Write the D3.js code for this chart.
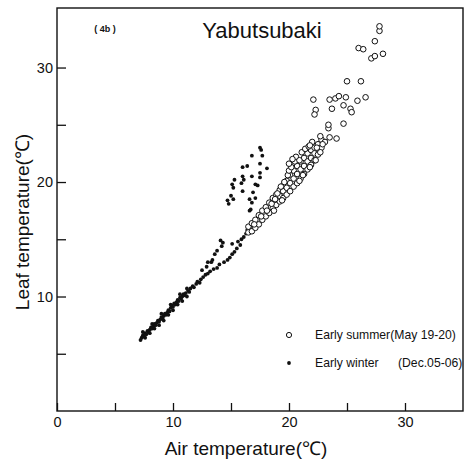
<!DOCTYPE html>
<html>
<head>
<meta charset="utf-8">
<script src="https://cdn.jsdelivr.net/npm/d3@7"></script>
<style>
  html, body { margin: 0; padding: 0; background: #fff; }
  svg { display: block; font-family: "Liberation Sans", Arial, sans-serif; }
</style>
</head>
<body>
<svg id="chart" width="465" height="463"></svg>
<script>
// ---- Data ----
const chartTitle = "Yabutsubaki";
const panelLabel = "( 4b )";
const xTitle = "Air temperature(\u2103)";
const yTitle = "Leaf temperature(\u2103)";
const xTickValues = [0, 5, 10, 15, 20, 25, 30];
const yTickValues = [5, 10, 15, 20, 25, 30];
const xTickLabels = ["0", "", "10", "", "20", "", "30"];
const yTickLabels = ["", "10", "", "20", "", "30"];
const seriesNames = ["Early summer(May 19-20)", "Early winter", "(Dec.05-06)"];

// Early summer (open circles): [air, leaf]
const summerPoints = [
  [16.5,15.6],[16.5,16.1],[16.8,15.7],[16.8,16.4],[17.1,16.0],[17.1,16.7],
  [17.4,16.3],[17.4,17.1],[17.7,16.7],[17.7,17.5],[18.0,17.0],[18.0,17.8],
  [18.3,17.3],[18.3,18.2],[18.6,17.7],[18.6,18.6],[18.9,18.0],[18.9,18.9],
  [19.2,18.3],[19.2,19.3],[19.2,18.8],[19.5,18.6],[19.5,19.7],[19.5,19.2],
  [19.8,18.9],[19.8,20.1],[19.8,19.5],[20.1,19.2],[20.1,20.6],[20.1,19.9],
  [20.4,19.6],[20.4,21.0],[20.4,20.3],[20.7,19.9],[20.7,21.4],[20.7,20.7],
  [21.0,20.3],[21.0,21.8],[21.0,21.1],[21.3,20.7],[21.3,22.1],[21.3,21.4],
  [21.6,21.1],[21.6,22.5],[21.6,21.8],[21.9,21.5],[21.9,22.8],[21.9,22.1],
  [22.2,21.9],[22.2,23.0],[22.2,22.5],[22.5,22.4],[22.5,23.3],[22.8,23.0],
  [22.8,23.7],[23.1,23.5],[23.4,24.7],
  [17.0,16.3],[17.6,17.0],[18.1,17.5],[18.5,18.1],[18.8,18.5],[19.0,19.0],
  [19.3,19.6],[19.6,20.0],[19.9,20.6],[20.0,21.0],[20.2,21.3],[20.5,21.8],
  [20.6,22.2],[20.9,21.9],[21.1,22.6],[21.4,22.9],[21.7,23.1],[22.0,23.5],
  [21.2,20.6],[20.9,20.1],[21.8,21.3],[22.3,21.9],[22.7,22.6],[19.4,18.4],
  [18.7,17.5],[20.3,22.0],[20.0,21.6],
  [21.8,23.2],[22.4,23.0],[22.9,23.3],[22.7,24.0],[23.5,23.9],[24.1,23.8],
  [23.4,25.0],[24.7,25.1],[22.3,26.3],[22.2,25.9],[23.7,26.4],[24.7,26.7],
  [25.3,26.4],[25.4,26.1],[22.1,27.2],[23.5,27.2],[24.0,27.3],[24.3,27.5],
  [24.9,27.4],[25.9,27.1],[26.6,27.4],[25.0,28.8],[26.2,28.8],[27.1,30.8],
  [27.4,31.0],[28.1,31.2],[26.0,31.7],[26.4,31.6],[27.4,32.3],[27.8,33.2],
  [27.8,33.6]
];

// Early winter (filled dots): [air, leaf]
const winterPoints = [
  [7.2,6.2],[7.3,6.4],[7.4,6.6],[7.5,6.5],[7.6,6.8],[7.7,6.7],[7.8,7.0],[7.9,6.9],
  [8.0,7.1],[8.1,7.3],[8.2,7.2],[8.3,7.4],[8.4,7.6],[8.5,7.5],[8.6,7.7],[8.7,7.9],
  [8.8,7.8],[8.9,8.0],[9.0,8.2],[9.1,8.1],[9.2,8.3],[9.3,8.5],[9.4,8.4],[9.5,8.6],
  [9.6,8.8],[9.7,8.7],[9.8,9.0],[9.9,9.2],[10.0,9.1],[10.1,9.4],[10.2,9.3],[10.3,9.5],
  [10.4,9.7],[10.5,9.6],[10.6,9.9],[10.7,9.8],[10.8,10.0],[10.9,10.2],[11.0,10.1],
  [11.1,10.3],[11.3,10.5],[11.4,10.4],[11.5,10.7],[11.7,10.9],[11.8,10.8],[12.0,11.1],
  [12.1,11.3],[12.3,11.2],[12.4,11.5],[12.5,12.3],[12.6,11.7],[12.8,11.9],[12.9,12.6],
  [13.0,12.0],[13.2,12.2],[13.3,13.0],[13.4,13.2],[13.5,12.4],[13.6,13.7],[13.8,12.5],
  [13.8,14.0],[14.0,12.8],[14.2,14.4],[14.3,14.7],[14.4,13.0],[14.7,13.2],[14.9,13.4],
  [15.1,13.7],[15.3,13.9],[15.5,14.2],[15.6,14.8],[15.8,14.5],[15.9,15.0],[16.1,15.2],
  [16.3,15.5],[16.4,15.8],[16.6,16.0],[16.8,16.2],[17.0,16.4],
  [7.6,6.4],[8.0,6.8],[8.4,7.2],[8.8,7.5],[9.2,7.9],[9.6,8.4],[10.0,8.8],[10.4,9.3],
  [10.8,9.6],[11.2,10.0],[7.4,6.9],[8.2,7.6],[9.0,8.5],[9.8,9.3],[10.6,10.2],[11.2,10.7],
  [13.0,13.0],[14.1,14.9],[15.1,14.6],
  [16.8,22.3],[17.6,22.8],[17.7,22.3],[16.0,21.3],[16.4,21.4],[17.5,21.6],[18.1,21.2],
  [17.5,20.8],[16.8,20.5],[16.0,20.5],[16.1,20.2],[15.9,19.9],[15.1,19.8],[15.2,19.5],
  [17.5,20.4],[17.1,19.8],[17.3,19.7],[16.0,19.2],[16.9,19.1],[17.1,18.6],[16.6,18.5],
  [16.8,18.2],[15.0,18.8],[15.2,18.5],[14.7,18.4],[14.8,18.1],[16.6,17.5],[17.5,23.0],
  [15.3,20.2],[16.7,17.6]
];

// ---- Drawing ----
const svg = d3.select("#chart");
const mLeft = 57, mRight = 463, mTop = 8, mBottom = 411;

const x = d3.scaleLinear().domain([0, 35]).range([mLeft, mRight]);
const y = d3.scaleLinear().domain([0, 35.2]).range([mBottom, mTop]);

// frame
svg.append("rect")
  .attr("x", mLeft).attr("y", mTop)
  .attr("width", mRight - mLeft).attr("height", mBottom - mTop)
  .attr("fill", "none").attr("stroke", "#111").attr("stroke-width", 1.4);

// x axis
const xAxis = d3.axisBottom(x)
  .tickValues(xTickValues)
  .tickSizeInner(-8).tickSizeOuter(0).tickPadding(6)
  .tickFormat((d, i) => xTickLabels[i]);
const gx = svg.append("g").attr("transform", `translate(0,${mBottom})`).call(xAxis);
gx.select(".domain").remove();
gx.selectAll(".tick line").attr("stroke", "#111").attr("stroke-width", 1.3);
gx.selectAll(".tick text").attr("font-size", 14.5).attr("fill", "#111")
  .attr("font-family", "Liberation Sans, Arial, sans-serif");

// y axis
const yAxis = d3.axisLeft(y)
  .tickValues(yTickValues)
  .tickSizeInner(-9).tickSizeOuter(0).tickPadding(4)
  .tickFormat((d, i) => yTickLabels[i]);
const gy = svg.append("g").attr("transform", `translate(${mLeft},0)`).call(yAxis);
gy.select(".domain").remove();
gy.selectAll(".tick line").attr("stroke", "#111").attr("stroke-width", 1.3);
gy.selectAll(".tick text").attr("font-size", 14.5).attr("fill", "#111")
  .attr("font-family", "Liberation Sans, Arial, sans-serif");

// winter points (filled)
svg.append("g").selectAll("circle")
  .data(winterPoints).join("circle")
  .attr("cx", d => x(d[0])).attr("cy", d => y(d[1]))
  .attr("r", 1.9).attr("fill", "#111");

// summer points (open)
svg.append("g").selectAll("circle")
  .data(summerPoints).join("circle")
  .attr("cx", d => x(d[0])).attr("cy", d => y(d[1]))
  .attr("r", 2.8).attr("fill", "#fff").attr("stroke", "#111").attr("stroke-width", 1);

// title and panel label
svg.append("text").attr("x", 262).attr("y", 38).attr("text-anchor", "middle")
  .attr("font-size", 22).attr("fill", "#111").text(chartTitle);
svg.append("text").attr("x", 105).attr("y", 32).attr("text-anchor", "middle")
  .attr("font-size", 9).attr("font-weight", "bold").attr("fill", "#111").text(panelLabel);

// axis titles
svg.append("text").attr("x", 246).attr("y", 455).attr("text-anchor", "middle")
  .attr("font-size", 19).attr("fill", "#111").text(xTitle);
svg.append("text").attr("transform", "translate(29,222) rotate(-90)")
  .attr("text-anchor", "middle")
  .attr("font-size", 19).attr("fill", "#111").text(yTitle);

// legend
svg.append("circle").attr("cx", 289).attr("cy", 335).attr("r", 2.6)
  .attr("fill", "#fff").attr("stroke", "#111").attr("stroke-width", 1);
svg.append("text").attr("x", 315).attr("y", 339).attr("font-size", 12.2)
  .attr("fill", "#111").text(seriesNames[0]);
svg.append("circle").attr("cx", 289).attr("cy", 363).attr("r", 1.9).attr("fill", "#111");
svg.append("text").attr("x", 315).attr("y", 367).attr("font-size", 12.2)
  .attr("fill", "#111").text(seriesNames[1]);
svg.append("text").attr("x", 398).attr("y", 367).attr("font-size", 12.2)
  .attr("fill", "#111").text(seriesNames[2]);
</script>
</body>
</html>
